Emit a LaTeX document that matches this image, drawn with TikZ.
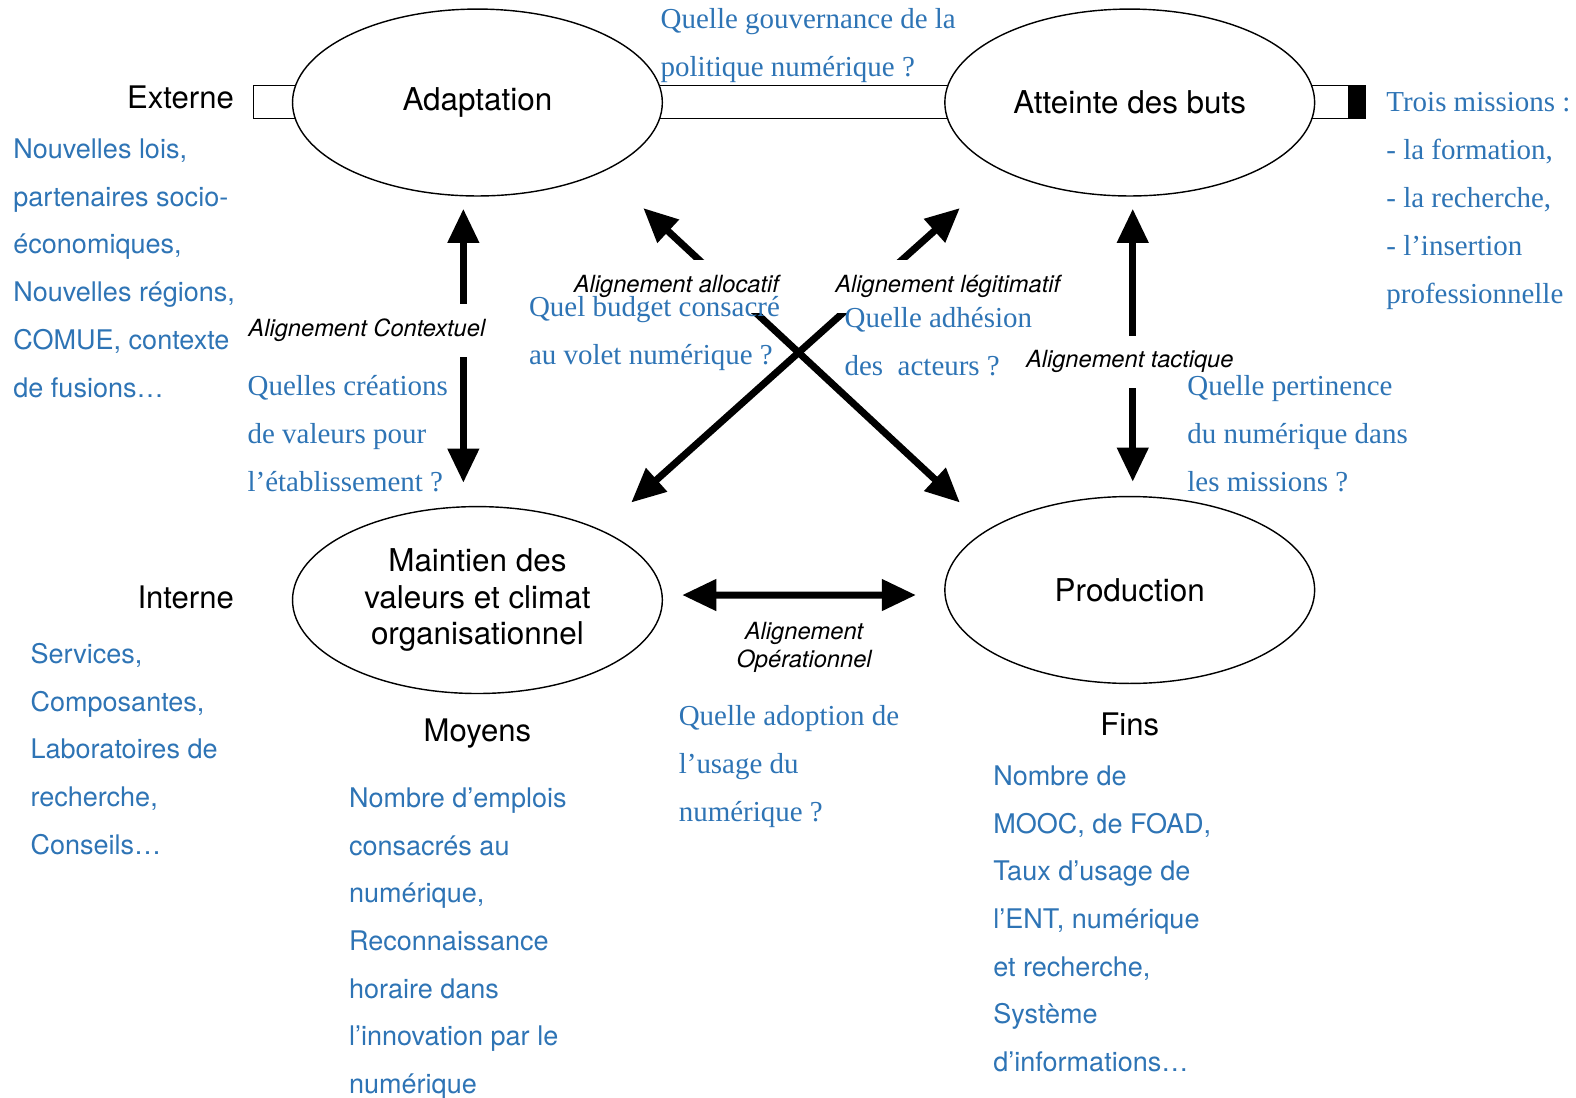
\documentclass[tikz,border=0pt]{standalone}
\usepackage{fontspec}
\setsansfont{TeX Gyre Heros}
\newfontfamily\tnr{Liberation Serif}
\usetikzlibrary{shapes.geometric,arrows.meta}
\definecolor{qblue}{RGB}{46,116,181}

\begin{document}
\begin{tikzpicture}[x=0.02cm, y=-0.02cm, >={Triangle[length=0.68cm,width=0.6cm]},
  main node/.style={ellipse, draw, line width=0.8pt, fill=white, minimum width=7.36cm, minimum height=3.72cm, inner sep=0pt, align=center, font=\sffamily\fontsize{17.8}{20.5}\selectfont},
  side/.style={inner sep=0pt, font=\sffamily\fontsize{17.6}{20}\selectfont},
  list/.style={anchor=base west, align=left, inner sep=0pt, text=qblue, font=\sffamily\fontsize{15.3}{27}\selectfont},
  quest/.style={anchor=base west, align=left, inner sep=0pt, text=qblue, font=\tnr\fontsize{16.4}{27.2}\selectfont},
  alig/.style={anchor=base, fill=white, inner xsep=2pt, inner ysep=0.3cm, font=\sffamily\itshape\fontsize{13.4}{16}\selectfont},
  link/.style={line width=0.14cm, <->}]
\useasboundingbox (0,0) rectangle (1568,1092);
% axe externe / interne
\draw[line width=0.8pt] (252,85) rectangle (1358,118);
\fill (1341,85) rectangle (1358,118);
\node[main node] (adapt) at (475,102) {Adaptation};
\node[main node] (buts) at (1124,102) {Atteinte des buts};
\node[main node] (maint) at (475,597) {Maintien des\\valeurs et climat\\organisationnel};
\node[main node] (prod) at (1124,587) {Production};
\coordinate (allocA) at (640,207);
\coordinate (allocB) at (955,500);
\coordinate (legitA) at (955,207);
\coordinate (legitB) at (628,500);
% alignements
\draw[link, shorten <=0.24cm, shorten >=0.46cm] ([xshift=-0.28cm]adapt.south) -- ([xshift=-0.28cm]maint.north);
\draw[link, shorten <=0.24cm, shorten >=0.28cm] ([xshift=0.06cm]buts.south) -- ([xshift=0.06cm]prod.north);
\draw[link, shorten <=0.38cm, shorten >=0.56cm] ([yshift=0.1cm]maint.east) -- ([yshift=-0.1cm]prod.west);
\draw[link] (allocA) -- (allocB);
\draw[link] (legitA) -- (legitB);
\node[alig] (lalloc) at (673,291) {Alignement allocatif};
\node[alig] (llegit) at (943,291) {Alignement légitimatif};
\node[alig] (lctx) at (365,335) {Alignement Contextuel};
\node[alig] (ltact) at (1124,366) {Alignement tactique};
\node[alig, fill=none, align=center] (lop) at (800,664) {Alignement\\Opérationnel};
% cadres (base = derniere ligne)
\node[side, anchor=base east] (ext) at (233,108) {Externe};
\node[side, anchor=base east] (int) at (233,605) {Interne};
\node[side, anchor=base] (moy) at (475,738) {Moyens};
\node[side, anchor=base] (fins) at (1124,732) {Fins};
\node[list] (extlist) at (13,395) {Nouvelles lois,\\partenaires socio-\\économiques,\\Nouvelles régions,\\COMUE, contexte\\de fusions…};
\node[list] (intlist) at (30,850) {Services,\\Composantes,\\Laboratoires de\\recherche,\\Conseils…};
\node[list] (moylist) at (347,1088) {Nombre d’emplois\\consacrés au\\numérique,\\Reconnaissance\\horaire dans\\l’innovation par le\\numérique};
\node[list] (finlist) at (988,1066) {Nombre de\\MOOC, de FOAD,\\Taux d’usage de\\l’ENT, numérique\\et recherche,\\Système\\d’informations…};
% questions
\node[quest] (qgouv) at (657,76) {Quelle gouvernance de la\\politique numérique ?};
\node[quest] (qmiss) at (1379,302) {Trois missions :\\- la formation,\\- la recherche,\\- l’insertion\\professionnelle};
\node[quest] (qbudget) at (526,363) {Quel budget consacré\\au volet numérique ?};
\node[quest] (qadh) at (840,374) {Quelle adhésion\\des\ \ acteurs ?};
\node[quest] (qval) at (246,489) {Quelles créations\\de valeurs pour\\l’établissement ?};
\node[quest] (qpert) at (1181,489) {Quelle pertinence\\du numérique dans\\les missions ?};
\node[quest] (qadopt) at (675,817) {Quelle adoption de\\l’usage du\\numérique ?};
\end{tikzpicture}
\end{document}
